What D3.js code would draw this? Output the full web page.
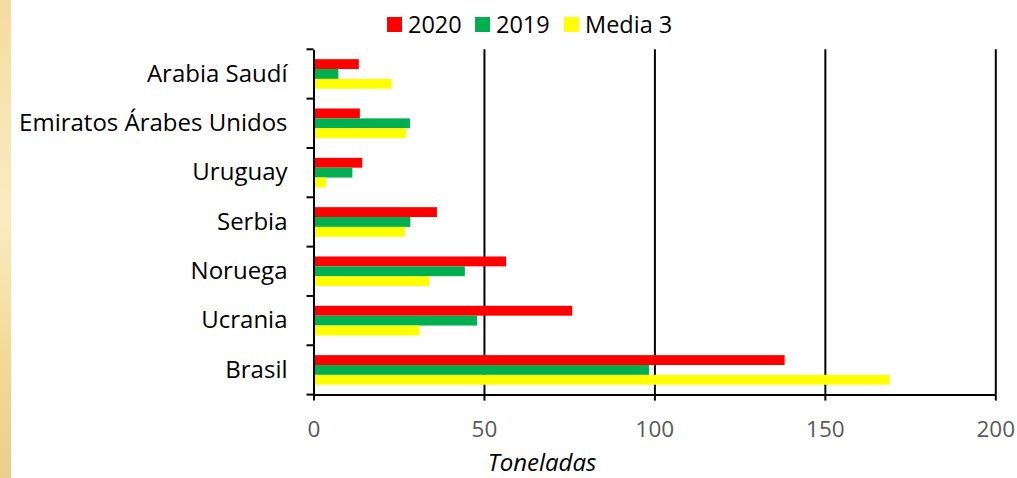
<!DOCTYPE html>
<html><head><meta charset="utf-8">
<script src="https://cdn.jsdelivr.net/npm/d3@7"></script>
<style>body{margin:0;background:#fff;}svg{display:block;font-family:"Open Sans",Lato,sans-serif;}</style>
</head><body>
<svg id="c" width="1017" height="478"></svg>
<script>
const categories = ["Arabia Saudí","Emiratos Árabes Unidos","Uruguay","Serbia","Noruega","Ucrania","Brasil"];
const seriesNames = ["2020","2019","Media 3"];
const seriesColors = ["#ff0000","#00b050","#ffff00"];
const v2020 = [13.3,13.6,14.3,36.2,56.5,75.9,138.2];
const v2019 = [7.3,28.3,11.4,28.4,44.4,48.0,98.4];
const vMedia = [22.9,27.2,3.7,26.8,33.9,31.1,169.0];
const xTicks = [0,50,100,150,200];
const axisTitle = "Toneladas";

const values = [v2020, v2019, vMedia];
const svg = d3.select("#c");
const FONT = "'Open Sans', Lato, sans-serif";

// left decorative strip
const defs = svg.append("defs");
const g1 = defs.append("linearGradient").attr("id","strip").attr("x1",0).attr("y1",0).attr("x2",0).attr("y2",1);
g1.append("stop").attr("offset","0%").attr("stop-color","#f5dca0");
g1.append("stop").attr("offset","45%").attr("stop-color","#fbecc0");
g1.append("stop").attr("offset","75%").attr("stop-color","#f3d995");
g1.append("stop").attr("offset","100%").attr("stop-color","#ead08a");
svg.append("rect").attr("x",0).attr("y",0).attr("width",11).attr("height",478).attr("fill","url(#strip)");

const x = d3.scaleLinear().domain([0,200]).range([313.5,995.3]);
const y = d3.scaleBand().domain(categories).range([49.3,394.6]).paddingInner(0).paddingOuter(0);
const ys = d3.scaleBand().domain(seriesNames).range([y.bandwidth()*0.2, y.bandwidth()*0.8]);

// gridlines
const grid = svg.append("g").attr("transform",`translate(0,${y.range()[0]})`)
  .call(d3.axisBottom(x).tickValues(xTicks.slice(1)).tickSize(y.range()[1]-y.range()[0]).tickFormat(""));
grid.select(".domain").remove();
grid.selectAll("line").attr("stroke","#000").attr("stroke-width",2);

// bars
seriesNames.forEach((s,si)=>{
  svg.append("g").selectAll("rect").data(categories).join("rect")
    .attr("x",x(0))
    .attr("y",(d)=>y(d)+ys(s))
    .attr("width",(d,i)=>x(values[si][i])-x(0))
    .attr("height",ys.bandwidth())
    .attr("fill",seriesColors[si]);
});

// x axis
const xa = svg.append("g").attr("transform",`translate(0,${y.range()[1]})`)
  .call(d3.axisBottom(x).tickValues(xTicks).tickSize(6).tickPadding(20).tickSizeOuter(0));
xa.select(".domain").attr("stroke","#000").attr("stroke-width",2);
xa.selectAll("line").attr("stroke","#000").attr("stroke-width",2);
xa.selectAll("text").attr("fill","#595959").attr("font-size",22.5).attr("font-family",FONT);

// y axis
const yEdges = categories.map(c=>y(c)).concat([y.range()[1]]);
const ya = svg.append("g").attr("transform",`translate(${x(0)},0)`)
  .call(d3.axisLeft(y).tickSize(0).tickPadding(26).tickSizeOuter(0));
ya.select(".domain").attr("stroke","#000").attr("stroke-width",2);
ya.selectAll("text").attr("fill","#000").attr("font-size",24).attr("font-family",FONT);
svg.append("g").selectAll("line").data(yEdges).join("line")
  .attr("x1",x(0)-7).attr("x2",x(0)).attr("y1",d=>d).attr("y2",d=>d)
  .attr("stroke","#000").attr("stroke-width",2);

// axis title
svg.append("text").attr("x",542).attr("y",471).attr("text-anchor","middle")
  .attr("font-style","italic").attr("font-size",24).attr("fill","#000").attr("font-family",FONT).text(axisTitle);

// legend
const legX = [387,475,564];
const leg = svg.append("g");
seriesNames.forEach((s,i)=>{
  leg.append("rect").attr("x",legX[i]).attr("y",17).attr("width",15).attr("height",15).attr("fill",seriesColors[i]);
  leg.append("text").attr("x",legX[i]+21).attr("y",32.5).attr("font-size",23.5).attr("fill","#000").attr("font-family",FONT).text(s);
});
</script>
</body></html>
